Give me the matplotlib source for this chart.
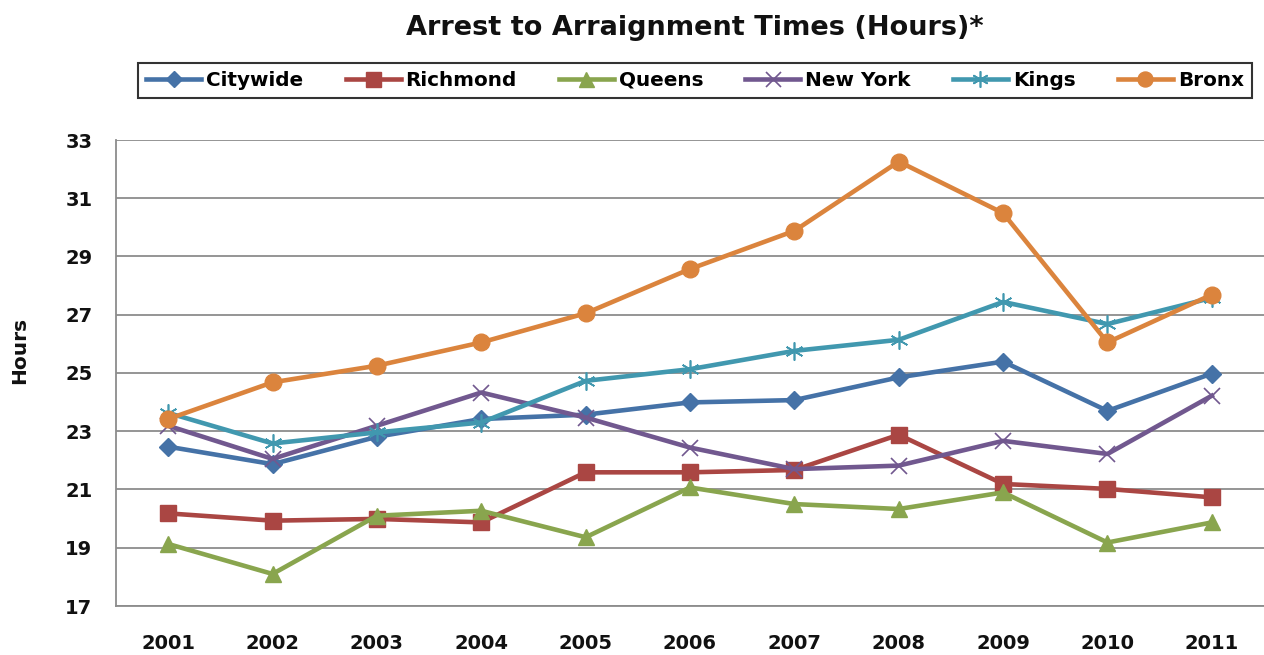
import matplotlib
matplotlib.use("Agg")
import matplotlib.pyplot as plt

years = ["2001", "2002", "2003", "2004", "2005", "2006", "2007", "2008", "2009", "2010", "2011"]
citywide = [22.47, 21.87, 22.81, 23.42, 23.57, 23.99, 24.07, 24.85, 25.39, 23.70, 24.98]
richmond = [20.18, 19.93, 19.99, 19.87, 21.59, 21.59, 21.67, 22.88, 21.19, 21.02, 20.73]
queens = [19.13, 18.10, 20.10, 20.27, 19.36, 21.07, 20.50, 20.33, 20.90, 19.18, 19.87]
new_york = [23.19, 22.05, 23.19, 24.33, 23.47, 22.44, 21.70, 21.82, 22.67, 22.22, 24.22]
kings = [23.63, 22.58, 22.96, 23.30, 24.73, 25.13, 25.76, 26.14, 27.44, 26.68, 27.58]
bronx = [23.42, 24.68, 25.25, 26.05, 27.05, 28.57, 29.88, 32.26, 30.49, 26.05, 27.69]

series_names = ["Citywide", "Richmond", "Queens", "New York", "Kings", "Bronx"]
series_vals = [citywide, richmond, queens, new_york, kings, bronx]
colors = ["#4572A7", "#AA4643", "#89A54E", "#71588F", "#4198AF", "#DB843D"]
markers = ["D", "s", "^", "x", (6, 2, 0), "o"]
msizes = [9, 12, 12, 12, 13, 12]

plt.rcParams['font.family'] = ['DejaVu Sans']

fig = plt.figure(figsize=(12.64, 6.55), dpi=100)
ax = fig.add_axes([116/1264, 1 - 606/655, (1264 - 116)/1264, (606 - 140)/655])

x = list(range(len(years)))
handles = []
for name, vals, c, m, ms in zip(series_names, series_vals, colors, markers, msizes):
    h, = ax.plot(x, vals, color=c, lw=3.3, marker=m, markersize=ms,
                 markeredgecolor=c, markerfacecolor=c,
                 markeredgewidth=1.2 if m in ("x", (6, 2, 0)) else 1.0,
                 label=name, zorder=3, solid_joinstyle='round')
    handles.append(h)

ax.set_xlim(-0.5, 10.5)
ax.set_ylim(17, 33)
ax.set_yticks([17, 19, 21, 23, 25, 27, 29, 31, 33])
ax.set_xticks(x)
ax.set_xticklabels(years)
ax.yaxis.grid(True, color="#8c8c8c", lw=1.3, zorder=0)
ax.set_axisbelow(True)
for s in ["top", "right"]:
    ax.spines[s].set_visible(False)
ax.spines["left"].set_color("#8c8c8c")
ax.spines["bottom"].set_color("#8c8c8c")
ax.spines["left"].set_linewidth(1.3)
ax.spines["bottom"].set_linewidth(1.3)
ax.tick_params(axis="both", length=0, labelsize=14, colors="#111111")
ax.tick_params(axis="x", pad=20)
ax.tick_params(axis="y", pad=17)
for lbl in ax.get_xticklabels() + ax.get_yticklabels():
    lbl.set_fontweight("bold")

fig.text(20/1264, 1 - 350/655, "Hours", rotation=90, fontsize=14.5, fontweight="bold",
         ha="center", va="center", color="#111111")
fig.text(695/1264, 1 - 28/655, "Arrest to Arraignment Times (Hours)*", fontsize=19.5,
         fontweight="bold", ha="center", va="center", color="#111111")

leg = fig.legend(handles=handles, labels=series_names, ncol=6,
                 loc="center", bbox_to_anchor=(695/1264, 1 - 80/655),
                 frameon=True, fancybox=False, edgecolor="black",
                 prop={"weight": "bold", "size": 14.4}, handlelength=2.75,
                 columnspacing=2.1, handletextpad=0.25, borderpad=0.4,
                 markerscale=0.9)
leg.get_frame().set_linewidth(1.5)

fig.savefig("out.png", dpi=100)
